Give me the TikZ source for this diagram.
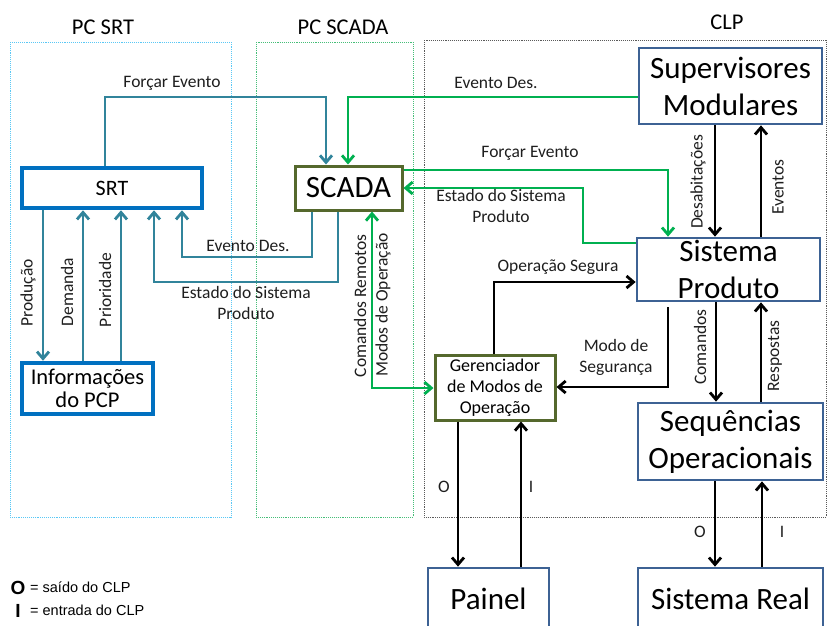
\documentclass[tikz,border=0pt]{standalone}
\usepackage{fontspec}
\setmainfont{Carlito}
\newfontfamily\legendfont{Liberation Sans}
\usetikzlibrary{arrows.meta}
\definecolor{tealc}{RGB}{49,132,155}
\definecolor{greenc}{RGB}{0,176,80}
\definecolor{srtblue}{RGB}{0,112,192}
\definecolor{boxblue}{RGB}{61,98,148}
\definecolor{olivec}{RGB}{85,104,45}
\definecolor{framecyan}{RGB}{90,200,245}
\definecolor{framegreen}{RGB}{70,190,120}
\definecolor{framegray}{RGB}{90,90,90}
\definecolor{labc}{RGB}{30,30,30}
\tikzset{
  tip/.style={-{Straight Barb[length=7pt,width=12pt]}},
  tealln/.style={draw=tealc,line width=2.8pt,tip},
  greenln/.style={draw=greenc,line width=2.8pt,tip},
  blackln/.style={draw=black,line width=2.8pt,tip},
  lab/.style={font=\fontsize{17.5}{21}\selectfont,text=labc,inner sep=0pt,align=center},
  rlab/.style={lab,rotate=90},
  srtbox/.style={draw=srtblue,line width=4.5pt,fill=white,inner sep=0pt,align=center},
  bigbox/.style={draw=boxblue,line width=2.7pt,fill=white,inner sep=0pt,align=center,font=\fontsize{31}{37}\selectfont},
  olivebox/.style={draw=olivec,line width=3pt,fill=white,inner sep=0pt,align=center},
  frame/.style={densely dotted,line width=0.9pt},
  title/.style={font=\fontsize{22.5}{26}\selectfont,inner sep=0pt}
}
\begin{document}
\begin{tikzpicture}[x=1pt,y=-1pt]
\useasboundingbox (0,0) rectangle (827,625);
\clip (0,0) rectangle (827,625);
% frames
\draw[frame,draw=framecyan] (10,42) rectangle (231,517);
\draw[frame,draw=framegreen] (256,42) rectangle (413,517);
\draw[frame,draw=framegray] (424,40) rectangle (826,517);
\node[title] (t1) at (103,27) {PC SRT};
\node[title] (t2) at (343,27) {PC SCADA};
\node[title] (t3) at (727,22) {CLP};
% nodes
\node[srtbox,minimum width=180pt,minimum height=40pt,font=\fontsize{22}{25}\selectfont] (srt) at (112,188) {SRT};
\node[srtbox,minimum width=131pt,minimum height=51pt,font=\fontsize{22.5}{26}\selectfont] (info) at (87.5,388.5) {Informações\\[-3pt]do PCP};
\node[olivebox,minimum width=107pt,minimum height=44pt,font=\fontsize{31}{36}\selectfont] (scada) at (348.5,188) {SCADA};
\node[bigbox,minimum width=183pt,minimum height=76pt] (sup) at (730.5,86) {Supervisores\\Modulares};
\node[bigbox,minimum width=183pt,minimum height=63pt] (sp) at (728.5,269.5) {Sistema\\Produto};
\node[bigbox,minimum width=185pt,minimum height=77pt] (seq) at (730.5,441.5) {Sequências\\Operacionais};
\node[olivebox,minimum width=120pt,minimum height=65pt,font=\fontsize{18}{21}\selectfont] (ger) at (495,387.5) {Gerenciador\\de Modos de\\Operação};
\node[bigbox,minimum width=121pt,minimum height=62pt] (painel) at (488.5,599) {Painel};
\node[bigbox,minimum width=185pt,minimum height=62pt] (real) at (730.5,599) {Sistema Real};
% teal connectors
\draw[tealln] (105,0 |- srt.north) |- (326,97) -- (326,0 |- scada.north);
\node[lab] (l1) at (172,83) {Forçar Evento};
\draw[tealln] (43,0 |- srt.south) -- (43,0 |- info.north);
\draw[tealln] (83,0 |- info.north) -- (83,0 |- srt.south);
\draw[tealln] (121,0 |- info.north) -- (121,0 |- srt.south);
\node[rlab] (l2) at (28,293) {Produção};
\node[rlab] (l3) at (67,292) {Demanda};
\node[rlab] (l4) at (105,290) {Prioridade};
\draw[tealln] (312,0 |- scada.south) |- (182,257) -- (182,0 |- srt.south);
\node[lab] (l5) at (248,246) {Evento Des.};
\draw[tealln] (338,0 |- scada.south) |- (154,282) -- (154,0 |- srt.south);
\node[lab] (l6) at (246,303) {Estado do Sistema\\Produto};
% green connectors
\draw[greenln] (sup.west |- 0,97) -- (348,97) -- (348,0 |- scada.north);
\node[lab] (l7) at (496,83) {Evento Des.};
\draw[greenln] (scada.east |- 0,170) -| (668,0 |- sp.north);
\node[lab] (l8) at (530,153) {Forçar Evento};
\draw[greenln] (sp.west |- 0,243) -| (583,188) -- (scada.east |- 0,188);
\node[lab] (l9) at (501,206) {Estado do Sistema\\Produto};
\draw[greenln,{Straight Barb[length=7pt,width=12pt]}-{Straight Barb[length=7pt,width=12pt]}] (372,0 |- scada.south) |- (ger.west |- 0,388);
\node[rlab] (l10) at (360,306) {Comandos Remotos};
\node[rlab] (l11) at (383,305) {Modos de Operação};
% black connectors
\draw[blackln] (715,0 |- sup.south) -- (715,0 |- sp.north);
\node[rlab] (l12) at (698,182) {Desabitações};
\draw[blackln] (761,0 |- sp.north) -- (761,0 |- sup.south);
\node[rlab] (l13) at (778,187) {Eventos};
\draw[blackln] (494,0 |- ger.north) |- (sp.west |- 0,282);
\node[lab] (l14) at (558,267) {Operação Segura};
\coordinate (msstart) at (668,307);
\draw[blackln] (msstart) |- (ger.east |- 0,387);
\node[lab] (l15) at (616,357) {Modo de\\Segurança};
\draw[blackln] (716,0 |- sp.south) -- (716,0 |- seq.north);
\node[rlab] (l16) at (700,347) {Comandos};
\draw[blackln] (761,0 |- seq.north) -- (761,0 |- sp.south);
\node[rlab] (l17) at (775,356) {Respostas};
\draw[blackln] (458,0 |- ger.south) -- (458,0 |- painel.north);
\draw[blackln] (521,0 |- painel.north) -- (521,0 |- ger.south);
\node[lab] (o1) at (444,487) {O};
\node[lab] (i1) at (531,487) {I};
\draw[blackln] (715,0 |- seq.south) -- (715,0 |- real.north);
\draw[blackln] (762,0 |- real.north) -- (762,0 |- seq.south);
\node[lab] (o2) at (700,532) {O};
\node[lab] (i2) at (782,532) {I};
% legend
\node[inner sep=0pt,font=\legendfont\bfseries\fontsize{19}{20}\selectfont] (lo) at (18,588) {O};
\node[inner sep=0pt,anchor=west,font=\legendfont\fontsize{14.5}{17}\selectfont] (lot) at (30,587) {= saído do CLP};
\node[inner sep=0pt,font=\legendfont\bfseries\fontsize{19}{20}\selectfont] (li) at (18,611) {I};
\node[inner sep=0pt,anchor=west,font=\legendfont\fontsize{14.5}{17}\selectfont] (lit) at (30,610) {= entrada do CLP};
\end{tikzpicture}
\end{document}
